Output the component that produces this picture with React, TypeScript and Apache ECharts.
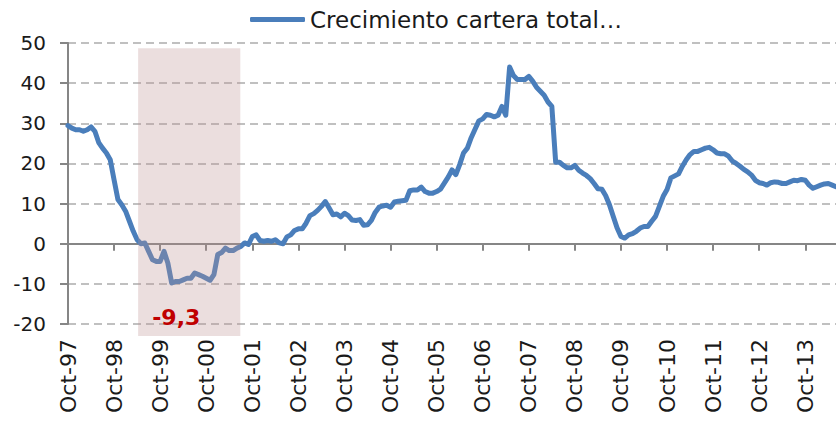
import React, { useEffect, useRef } from "react";
import * as echarts from "echarts";

const monthNames = ["Ene", "Feb", "Mar", "Abr", "May", "Jun", "Jul", "Ago", "Sep", "Oct", "Nov", "Dic"];
const startMonth = 9; // Oct
const startYear = 1997;

const growth = [
  29.4, 28.8, 28.4, 28.4, 28.0, 28.4, 29.1, 28.0, 25.2, 23.8, 22.6, 20.9,
  15.9, 11.0, 9.7, 8.1, 5.6, 3.1, 1.0, 0.0, 0.2, -1.9, -4.0, -4.4,
  -4.4, -1.9, -4.8, -9.8, -9.4, -9.4, -9.0, -8.6, -8.6, -7.3, -7.7, -8.1,
  -8.6, -9.1, -7.7, -2.7, -2.2, -1.1, -1.7, -1.7, -1.1, -0.7, 0.2, -0.2,
  1.8, 2.2, 0.8, 0.6, 0.8, 0.6, 1.0, 0.2, 0.0, 1.7, 2.2, 3.3,
  3.7, 3.7, 5.1, 7.0, 7.5, 8.3, 9.3, 10.5, 8.9, 7.2, 7.4, 6.7,
  7.6, 7.0, 5.9, 5.8, 6.0, 4.6, 4.7, 5.8, 7.8, 9.1, 9.4, 9.6,
  9.1, 10.4, 10.6, 10.7, 10.8, 13.2, 13.4, 13.4, 14.1, 13.0, 12.6, 12.6,
  13.0, 13.6, 15.1, 16.6, 18.4, 17.2, 19.7, 22.6, 23.8, 26.4, 28.5, 30.6,
  31.1, 32.2, 32.0, 31.6, 32.0, 34.2, 32.0, 44.0, 41.9, 40.9, 40.9, 40.9,
  41.7, 40.5, 39.0, 38.0, 37.0, 35.3, 34.2, 20.3, 20.3, 19.5, 18.9, 18.9,
  19.5, 18.3, 17.6, 17.0, 16.2, 15.0, 13.7, 13.6, 12.0, 9.7, 6.8, 3.9,
  1.8, 1.4, 2.2, 2.5, 3.1, 3.9, 4.3, 4.3, 5.6, 6.8, 9.3, 11.8,
  13.5, 16.4, 16.9, 17.4, 19.3, 20.9, 22.2, 23.0, 23.0, 23.4, 23.8, 24.0,
  23.4, 22.6, 22.4, 22.4, 21.8, 20.6, 20.0, 19.3, 18.5, 17.9, 17.1, 15.8,
  15.2, 15.0, 14.6, 15.2, 15.4, 15.3, 15.0, 15.0, 15.4, 15.8, 15.7, 16.0,
  15.8, 14.6, 13.8, 14.2, 14.6, 14.9, 15.0, 14.6, 14.2,
];

const categories = growth.map((_, i) => {
  const m = (startMonth + i) % 12;
  const y = startYear + Math.floor((startMonth + i) / 12);
  return `${monthNames[m]}-${String(y % 100).padStart(2, "0")}`;
});

const seriesName = "Crecimiento cartera total…";
// shaded period (month index from Oct-97), and its vertical extent
const shadeStart = 18.26;
const shadeEnd = 44.87;
const shadeTop = 48.7;
const shadeBottom = -23.0;
const annotationText = "-9,3";
const annotationAt = [28.2, -18.4];

const yMin = -20;
const yMax = 50;
const yStep = 10;

const FONT = "DejaVu Sans";

export default function App() {
  const ref = useRef<HTMLDivElement>(null);
  useEffect(() => {
    if (!ref.current) return;
    const chart = echarts.init(ref.current, undefined, { renderer: "svg" });
    chart.setOption({
      animation: false,
      backgroundColor: "#ffffff",
      legend: {
        show: true,
        left: 250,
        top: 8,
        padding: 0,
        itemWidth: 55,
        itemHeight: 5,
        itemGap: 10,
        icon: "roundRect",
        textStyle: { fontFamily: FONT, fontSize: 23, color: "#1a1a1a", padding: [0, 0, 0, 0] },
        data: [{ name: seriesName, itemStyle: { color: "#4a7ebb" } }],
      },
      grid: { left: 68, right: 0, top: 43, bottom: 98, containLabel: false },
      xAxis: [
        {
          type: "category",
          data: categories,
          boundaryGap: false,
          axisLine: { show: true, onZero: true, lineStyle: { color: "#868686", width: 2 } },
          axisTick: { show: true, interval: 11, length: 7, lineStyle: { color: "#868686", width: 2 } },
          axisLabel: { show: false },
          splitLine: { show: false },
        },
        {
          type: "category",
          data: categories,
          boundaryGap: false,
          position: "bottom",
          axisLine: { show: false, onZero: false },
          axisTick: { show: false },
          axisLabel: {
            show: true,
            interval: 11,
            rotate: 90,
            margin: 15,
            fontFamily: FONT,
            fontSize: 22,
            color: "#1a1a1a",
          },
          splitLine: { show: false },
        },
        {
          type: "value",
          min: 0,
          max: categories.length - 1,
          show: false,
        },
      ],
      yAxis: {
        type: "value",
        min: yMin,
        max: yMax,
        interval: yStep,
        axisLine: { show: true, lineStyle: { color: "#868686", width: 2 } },
        axisTick: { show: true, length: 8, lineStyle: { color: "#868686", width: 2 } },
        axisLabel: { fontFamily: FONT, fontSize: 20, color: "#1a1a1a", margin: 22 },
        splitLine: { show: true, lineStyle: { color: "#c0c0c0", width: 2, type: [8, 5] } },
      },
      series: [
        {
          name: seriesName,
          type: "line",
          xAxisIndex: 0,
          data: growth,
          showSymbol: false,
          symbol: "none",
          lineStyle: { color: "#4a7ebb", width: 5, join: "round", cap: "round" },
          itemStyle: { color: "#4a7ebb" },
          z: 2,
        },
        {
          type: "custom",
          xAxisIndex: 2,
          silent: true,
          clip: false,
          z: 5,
          data: [[shadeStart, shadeEnd, shadeTop, shadeBottom]],
          renderItem: (params: any, api: any) => {
            const p1 = api.coord([api.value(0), api.value(2)]);
            const p2 = api.coord([api.value(1), api.value(3)]);
            const t = api.coord(annotationAt);
            return {
              type: "group",
              children: [
                {
                  type: "rect",
                  shape: { x: p1[0], y: p1[1], width: p2[0] - p1[0], height: p2[1] - p1[1] },
                  style: { fill: "rgba(188,145,145,0.3)" },
                },
                {
                  type: "text",
                  x: t[0],
                  y: t[1],
                  style: {
                    text: annotationText,
                    fill: "#c00000",
                    font: `bold 22px ${FONT}`,
                    textAlign: "center",
                    textVerticalAlign: "middle",
                  },
                },
              ],
            };
          },
        },
      ],
    });
    return () => chart.dispose();
  }, []);
  return (
    <div
      ref={ref}
      style={{ position: "absolute", left: 0, top: 0, width: 836, height: 422 }}
    />
  );
}
